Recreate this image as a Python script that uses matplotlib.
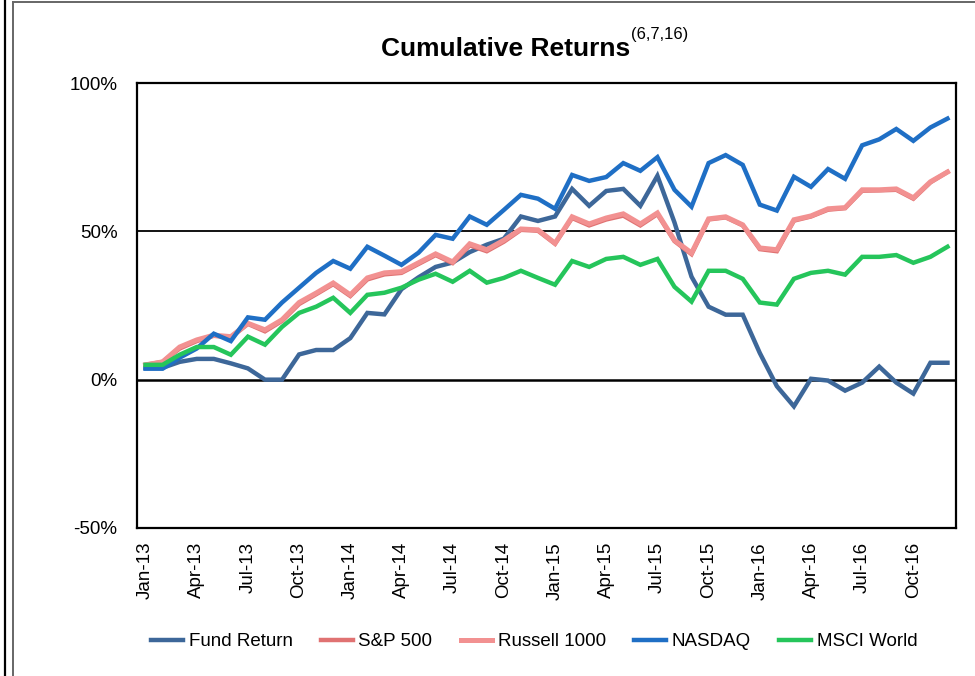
# coding: utf-8

"""Cumulative returns of the fund against four benchmark indices, Jan-13 to Dec-16."""

import numpy as np
import pandas as pd
import matplotlib
matplotlib.use('Agg')
import matplotlib.pyplot as plt
from matplotlib.lines import Line2D

plt.rcParams['font.family'] = ['Liberation Sans', 'DejaVu Sans']

# monthly dates
months = pd.date_range('2013-01-01', '2016-12-01', freq='MS')
tick_labels = [m.strftime('%b-%y') for m in months]

# cumulative returns (%)
fund_return = [4, 4, 6, 7, 7, 5.5, 3.8, 0, 0, 8.5, 10, 10,
               14, 22.5, 22, 30.5, 34.5, 38, 39.5, 43, 45.5, 47.5, 55, 53.5,
               55, 64.3, 58.6, 63.6, 64.3, 58.6, 68.7, 53, 34.7, 24.6, 21.9, 21.9,
               9, -2.2, -9, 0.3, -0.3, -3.7, -1, 4.4, -1, -4.7, 5.7, 5.7]
sp500 = [5, 6, 10.5, 13, 14.8, 14.2, 18.8, 16.3, 19.8, 25.5, 28.8, 32.2,
         28.2, 33.8, 35.5, 36, 39, 42, 39.3, 45.3, 43.3, 46.5, 50.5, 50.2,
         45.8, 54.5, 52, 54, 55.3, 52, 55.8, 46.7, 42.3, 54, 54.7, 52,
         44, 43.3, 53.6, 55, 57.3, 57.8, 63.7, 63.8, 64, 61, 66.5, 70]
russell_1000 = [5, 6, 11, 13.4, 15, 14.5, 19, 16.8, 20.2, 26, 29.2, 32.6,
                28.6, 34.3, 36, 36.4, 39.4, 42.4, 39.7, 45.8, 43.8, 47, 50.8, 50.5,
                46, 54.9, 52.5, 54.5, 55.9, 52.5, 56.2, 47, 42.7, 54.2, 54.9, 52.2,
                44.4, 43.8, 53.9, 55.2, 57.6, 58, 64, 64, 64.3, 61.3, 66.7, 70]
nasdaq = [3.7, 3.7, 7.4, 10.5, 15.5, 13, 21, 20.2, 26, 31, 36, 40,
          37.4, 44.8, 41.8, 38.7, 42.8, 48.8, 47.5, 55, 52.2, 57.2, 62.3, 61,
          57.6, 69, 67, 68.3, 73, 70.4, 75, 64, 58.3, 73, 75.7, 72.4,
          59, 57, 68.4, 65, 71, 67.7, 79, 81, 84.5, 80.5, 85, 88]
msci_world = [5, 5, 8.4, 11, 11, 8.4, 14.5, 11.8, 17.8, 22.5, 24.6, 27.6,
              22.5, 28.6, 29.3, 31, 33.7, 35.7, 33, 36.7, 32.7, 34.3, 36.7, 34.3,
              32, 40, 38, 40.7, 41.4, 38.7, 40.7, 31.3, 26.3, 36.7, 36.7, 34,
              26, 25.3, 34, 36, 36.7, 35.4, 41.4, 41.4, 42, 39.4, 41.4, 44.8]

series = [
    ('Fund Return', fund_return, '#3D6799', 3.2),
    ('S&P 500', sp500, '#E07272', 3.2),
    ('Russell 1000', russell_1000, '#F29191', 3.6),
    ('NASDAQ', nasdaq, '#1F6FC5', 3.2),
    ('MSCI World', msci_world, '#25C55B', 3.2),
]

fig = plt.figure(figsize=(9.75, 6.76), dpi=100)
ax = fig.add_axes([137 / 975, 148 / 676, 819 / 975, 445 / 676])

x = np.arange(len(months))
for name, values, color, lw in series:
    ax.plot(x, values, color=color, lw=lw, label=name, solid_joinstyle='miter')

# gridlines at 0% and 50%
ax.axhline(50, color='black', lw=1.3, zorder=0)
ax.axhline(0, color='black', lw=1.8, zorder=0)

ax.set_xlim(-0.5, len(months) - 0.5)
ax.set_ylim(-50, 100)
ax.set_yticks([-50, 0, 50, 100])
ax.set_yticklabels(['-50%', '0%', '50%', '100%'], fontsize=13.5)
ax.set_xticks(x[::3])
ax.set_xticklabels(tick_labels[::3], rotation=90, fontsize=13.5)
ax.tick_params(axis='both', length=0)
ax.tick_params(axis='x', pad=10)
ax.tick_params(axis='y', pad=14)
for spine in ax.spines.values():
    spine.set_linewidth(1.6)

fig.text(630, 676 - 49, 'Cumulative Returns', transform=None, ha='right',
         va='center', fontsize=19, fontweight='bold')
fig.text(631, 676 - 35, '(6,7,16)', transform=None, ha='left',
         va='center', fontsize=12)

ax.legend(loc='center', bbox_to_anchor=(0.485, -0.256), ncol=5, frameon=False,
          fontsize=13.5, handlelength=1.7, handletextpad=0.3, columnspacing=1.5)

# outer frame lines
fig.add_artist(Line2D([4.5 / 975, 4.5 / 975], [0, 1], color='black', lw=1.6))
fig.add_artist(Line2D([12.5 / 975, 12.5 / 975], [0, 1 - 1.5 / 676], color='#666666', lw=1.4))
fig.add_artist(Line2D([12.5 / 975, 1], [1 - 1.5 / 676, 1 - 1.5 / 676], color='#666666', lw=1.4))

fig.savefig('out.png', dpi=100)
